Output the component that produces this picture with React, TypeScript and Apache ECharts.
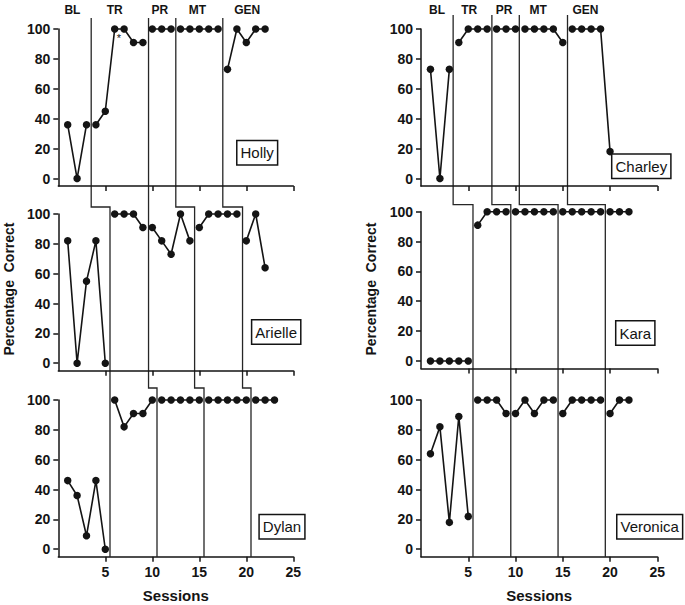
import React, { useEffect, useRef } from "react";
import * as echarts from "echarts";

// Axis ticks
const sessionTicks = [5, 10, 15, 20, 25];
const percentTicks = [0, 20, 40, 60, 80, 100];
const phaseNames = ["BL", "TR", "PR", "MT", "GEN"];

// Percentage correct per phase; sessions are numbered consecutively from 1
const hollyBL = [36, 0, 36];
const hollyTR = [36, 45, 100, 100, 91, 91];
const hollyPR = [100, 100, 100];
const hollyMT = [100, 100, 100, 100, 100];
const hollyGEN = [73, 100, 91, 100, 100];

const arielleBL = [82, 0, 55, 82, 0];
const arielleTR = [100, 100, 100, 91];
const ariellePR = [91, 82, 73, 100, 82];
const arielleMT = [91, 100, 100, 100, 100];
const arielleGEN = [82, 100, 64];

const dylanBL = [46, 36, 9, 46, 0];
const dylanTR = [100, 82, 91, 91, 100];
const dylanPR = [100, 100, 100, 100, 100];
const dylanMT = [100, 100, 100, 100, 100];
const dylanGEN = [100, 100, 100];

const charleyBL = [73, 0, 73];
const charleyTR = [91, 100, 100, 100];
const charleyPR = [100, 100, 100];
const charleyMT = [100, 100, 100, 100, 91];
const charleyGEN = [100, 100, 100, 100, 18];

const karaBL = [0, 0, 0, 0, 0];
const karaTR = [91, 100, 100, 100];
const karaPR = [100, 100, 100, 100, 100];
const karaMT = [100, 100, 100, 100, 100];
const karaGEN = [100, 100, 100];

const veronicaBL = [64, 82, 18, 89, 22];
const veronicaTR = [100, 100, 100, 91];
const veronicaPR = [91, 100, 91, 100, 100];
const veronicaMT = [91, 100, 100, 100, 100];
const veronicaGEN = [91, 100, 100];

// Session boundaries where each new phase begins (TR, PR, MT, GEN)
const hollyChanges = [3.5, 9.6, 12.5, 17.5];
const arielleChanges = [5.5, 9.6, 14.5, 19.6];
const dylanChanges = [5.5, 10.5, 15.5, 20.5];
const charleyChanges = [3.4, 7.5, 10.4, 15.5];
const karaChanges = [5.5, 9.5, 14.5, 19.5];
const veronicaChanges = [5.5, 9.5, 14.5, 19.5];

const names = ["Holly", "Arielle", "Dylan", "Charley", "Kara", "Veronica"];
const phasesByPanel = [
  [hollyBL, hollyTR, hollyPR, hollyMT, hollyGEN],
  [arielleBL, arielleTR, ariellePR, arielleMT, arielleGEN],
  [dylanBL, dylanTR, dylanPR, dylanMT, dylanGEN],
  [charleyBL, charleyTR, charleyPR, charleyMT, charleyGEN],
  [karaBL, karaTR, karaPR, karaMT, karaGEN],
  [veronicaBL, veronicaTR, veronicaPR, veronicaMT, veronicaGEN],
];
const changesByPanel = [
  hollyChanges, arielleChanges, dylanChanges,
  charleyChanges, karaChanges, veronicaChanges,
];

const FONT = "'Liberation Sans', Arial, Helvetica, sans-serif";
const INK = "#141414";

// Panel layout (pixels)
const colLeft = [58.3, 421];
const colWidth = [235, 236.3];
const panelTops = [[29, 214, 400], [29, 211.7, 400]];
const panelHeights = [157, 156.7, 156.7];
const lineTops = [18, 15];
const phaseLabelX = [
  [1.5, 6, 10.8, 14.8, 20.1],
  [1.7, 5.1, 8.8, 12.4, 17.4],
];
// Participant name boxes (centres)
const nameBoxes = [
  [257.2, 152.7], [276.2, 332], [282, 526.7],
  [641.3, 166.3], [635.3, 333], [649.7, 526.7],
];

export default function App() {
  const ref = useRef<HTMLDivElement>(null);

  useEffect(() => {
    if (!ref.current) return;
    const chart = echarts.init(ref.current, null, { renderer: "svg" });

    const grid: any[] = [];
    const xAxis: any[] = [];
    const yAxis: any[] = [];
    const series: any[] = [];

    for (let c = 0; c < 2; c++) {
      for (let r = 0; r < 3; r++) {
        const gi = c * 3 + r;
        const bottomRow = r === 2;
        grid.push({
          left: colLeft[c],
          top: panelTops[c][r],
          width: colWidth[c],
          height: panelHeights[r],
        });
        xAxis.push({
          type: "value",
          gridIndex: gi,
          min: 0,
          max: 25,
          interval: 5,
          axisLine: { show: true, onZero: false, lineStyle: { color: INK, width: 1.5 } },
          axisTick: {
            show: true,
            length: 5,
            customValues: sessionTicks,
            lineStyle: { color: INK, width: 1.5 },
          },
          axisLabel: {
            show: bottomRow,
            customValues: sessionTicks,
            margin: 8,
            color: INK,
            fontFamily: FONT,
            fontWeight: "bold",
            fontSize: 14,
          },
          splitLine: { show: false },
          name: bottomRow ? "Sessions" : "",
          nameLocation: "middle",
          nameGap: 31,
          nameTextStyle: {
            color: INK,
            fontFamily: FONT,
            fontWeight: "bold",
            fontSize: 15,
          },
        });
        yAxis.push({
          type: "value",
          gridIndex: gi,
          min: -5,
          max: 100,
          axisLine: { show: true, onZero: false, lineStyle: { color: INK, width: 1.5 } },
          axisTick: {
            show: true,
            length: 5,
            customValues: percentTicks,
            lineStyle: { color: INK, width: 1.5 },
          },
          axisLabel: {
            customValues: percentTicks,
            margin: 8,
            color: INK,
            fontFamily: FONT,
            fontWeight: "bold",
            fontSize: 14,
          },
          splitLine: { show: false },
        });

        let session = 1;
        phasesByPanel[gi].forEach((vals) => {
          const data = vals.map((v, i) => [session + i, v]);
          session += vals.length;
          series.push({
            type: "line",
            xAxisIndex: gi,
            yAxisIndex: gi,
            data,
            symbol: "circle",
            symbolSize: 7.5,
            clip: false,
            silent: true,
            lineStyle: { color: INK, width: 1.6 },
            itemStyle: { color: INK },
          });
        });
      }
    }

    chart.setOption({
      animation: false,
      backgroundColor: "#fff",
      grid,
      xAxis,
      yAxis,
      series,
    });

    const graphic: any[] = [];

    // Stepped phase-change lines running down each column
    for (let c = 0; c < 2; c++) {
      const g0 = c * 3;
      const stepY1 = panelTops[c][1] - 7;
      const stepY2 = panelTops[c][2] - 12;
      const bottomY = panelTops[c][2] + panelHeights[2];
      for (let k = 0; k < 4; k++) {
        const xs = [0, 1, 2].map(
          (r) => chart.convertToPixel({ gridIndex: g0 + r }, [changesByPanel[g0 + r][k], 0])[0]
        );
        graphic.push({
          type: "polyline",
          silent: true,
          shape: {
            points: [
              [xs[0], lineTops[c]],
              [xs[0], stepY1],
              [xs[1], stepY1],
              [xs[1], stepY2],
              [xs[2], stepY2],
              [xs[2], bottomY],
            ],
          },
          style: { stroke: "#262626", lineWidth: 1.3, fill: null },
        });
      }

      // Phase titles above the top panel
      phaseNames.forEach((name, k) => {
        const px = chart.convertToPixel({ gridIndex: g0 }, [phaseLabelX[c][k], 0])[0];
        graphic.push({
          type: "text",
          x: px,
          y: 10,
          silent: true,
          style: {
            text: name,
            align: "center",
            verticalAlign: "middle",
            fill: INK,
            font: `bold 12px ${FONT}`,
          },
        });
      });

      // Shared vertical axis title
      graphic.push({
        type: "text",
        x: c === 0 ? 9 : 371,
        y: 289,
        rotation: Math.PI / 2,
        silent: true,
        style: {
          text: "Percentage\u00a0\u00a0Correct",
          align: "center",
          verticalAlign: "middle",
          fill: INK,
          font: `bold 14px ${FONT}`,
        },
      });
    }

    // Participant name boxes
    names.forEach((name, i) => {
      graphic.push({
        type: "text",
        x: nameBoxes[i][0],
        y: nameBoxes[i][1],
        silent: true,
        z: 10,
        style: {
          text: name,
          align: "center",
          verticalAlign: "middle",
          fill: INK,
          font: `15px ${FONT}`,
          lineHeight: 17,
          padding: [3, 3],
          backgroundColor: "#fff",
          borderColor: INK,
          borderWidth: 1.5,
        },
      });
    });

    // Asterisk beside Holly's first 100% training session
    const star = chart.convertToPixel({ gridIndex: 0 }, [6.45, 94]);
    graphic.push({
      type: "text",
      x: star[0],
      y: star[1],
      silent: true,
      style: {
        text: "*",
        align: "center",
        verticalAlign: "middle",
        fill: INK,
        font: `11px ${FONT}`,
      },
    });

    chart.setOption({ graphic });

    return () => chart.dispose();
  }, []);

  return (
    <div
      ref={ref}
      style={{ position: "fixed", left: 0, top: 0, width: 685, height: 605 }}
    />
  );
}
